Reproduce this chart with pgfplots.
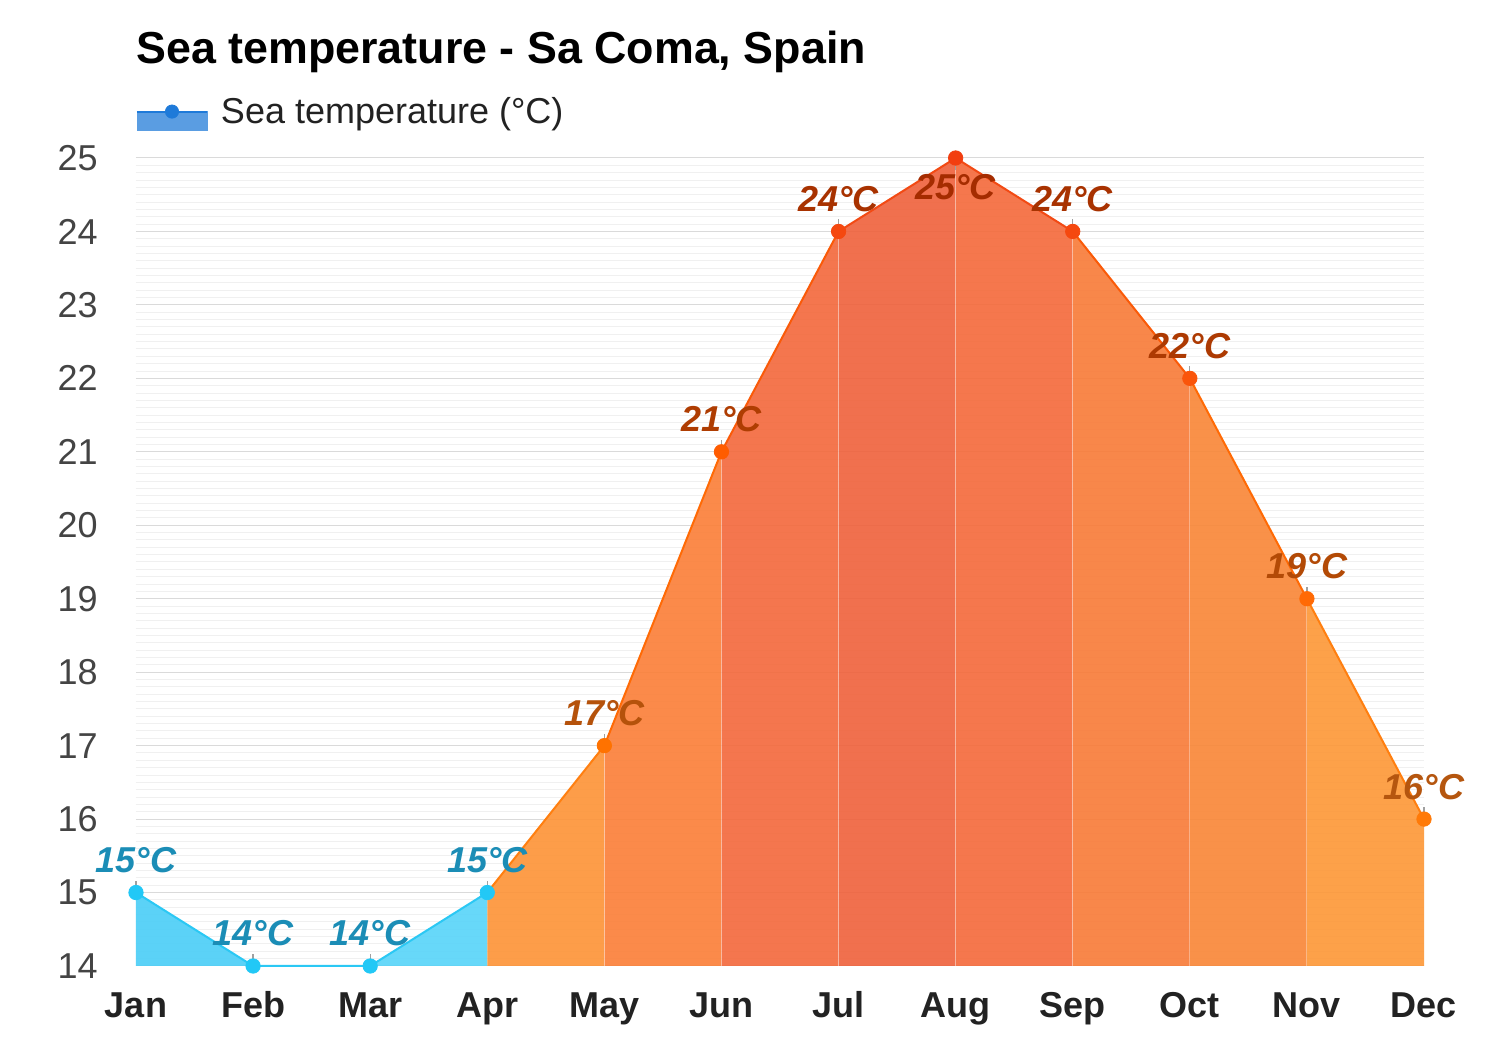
\documentclass[border=0pt]{standalone}
\usepackage{pgfplots}
\pgfplotsset{compat=1.18}
\usepackage{fontspec}
\setmainfont{Liberation Sans}

\definecolor{gridmaj}{HTML}{DADADA}
\definecolor{gridmin}{HTML}{F0F0F0}
\definecolor{tickc}{HTML}{444444}
\definecolor{monthc}{HTML}{222222}
\definecolor{tickgray}{HTML}{A0A0A0}
\definecolor{legfill}{HTML}{5A9DE2}
\definecolor{legline}{HTML}{1E7AD9}
% fills (drawn at 90% opacity)
\definecolor{fb1}{HTML}{4ACEF7}
\definecolor{fb3}{HTML}{57D4F9}
\definecolor{f4}{HTML}{FD9336}
\definecolor{f5}{HTML}{FB7E37}
\definecolor{f6}{HTML}{F3683B}
\definecolor{f7}{HTML}{EF613B}
\definecolor{f8}{HTML}{F4693A}
\definecolor{f9}{HTML}{F87A37}
\definecolor{f10}{HTML}{F98636}
\definecolor{f11}{HTML}{FD9736}
% lines
\definecolor{lblue}{HTML}{2BC8F4}
\definecolor{l1}{HTML}{FF7F10}
\definecolor{l2}{HTML}{FF6A05}
\definecolor{l3}{HTML}{FA5A08}
\definecolor{l4}{HTML}{F24A14}
% markers
\definecolor{mblue}{HTML}{22C8F6}
\definecolor{m17}{HTML}{FF7200}
\definecolor{m21}{HTML}{FF5C00}
\definecolor{m24}{HTML}{F5480F}
\definecolor{m25}{HTML}{F23E10}
\definecolor{m22}{HTML}{FA550A}
\definecolor{m19}{HTML}{FF6A05}
\definecolor{m16}{HTML}{FF7A08}
% labels
\definecolor{tblue}{HTML}{1B8DB6}
\definecolor{t17}{HTML}{B5520B}
\definecolor{t21}{HTML}{AF3D02}
\definecolor{t24}{HTML}{A83200}
\definecolor{t25}{HTML}{A52C00}
\definecolor{t22}{HTML}{AD3A02}
\definecolor{t19}{HTML}{B34A06}
\definecolor{t16}{HTML}{B5560F}

\pgfdeclareplotmark{tickup}{\pgfpathmoveto{\pgfqpoint{0pt}{0pt}}\pgfpathlineto{\pgfqpoint{0pt}{6pt}}\pgfusepathqstroke}
\pgfdeclareplotmark{tickdown}{\pgfpathmoveto{\pgfqpoint{0pt}{0pt}}\pgfpathlineto{\pgfqpoint{0pt}{-6pt}}\pgfusepathqstroke}

\newcommand{\fseg}[5]{\addplot[forget plot, draw=none, fill=#5, fill opacity=0.9] coordinates {(#1,14) (#1,#2) (#3,#4) (#3,14)};}
\newcommand{\lseg}[5]{\addplot[forget plot, draw=#5, line width=1pt, mark=none] coordinates {(#1,#2) (#3,#4)};}
\newcommand{\vsep}[2]{\addplot[forget plot, draw=white, opacity=0.35, line width=0.5pt, mark=none] coordinates {(#1,14) (#1,#2)};}
\newcommand{\tpt}[6]{%
\addplot[forget plot, only marks, mark=#6, color=tickgray, line width=0.6pt] coordinates {(#1,#2)};
\addplot[forget plot, only marks, mark=*, mark size=3.6pt, color=#3,
  nodes near coords={#2°C},
  every node near coord/.style={anchor=base, inner sep=0pt, yshift=#5,
    font=\bfseries\itshape\fontsize{18}{20}\selectfont, text=#4}] coordinates {(#1,#2)};
}

\begin{document}
\begin{tikzpicture}
\fill[white] (-68pt,-42pt) rectangle (682pt,483pt);
\begin{axis}[
  scale only axis, width=644pt, height=404pt,
  xmin=0, xmax=11, ymin=14, ymax=25,
  clip=false,
  axis line style={draw=none},
  major tick length=0pt, minor tick length=0pt,
  xtick={0,1,2,3,4,5,6,7,8,9,10,11},
  xticklabels={Jan,Feb,Mar,Apr,May,Jun,Jul,Aug,Sep,Oct,Nov,Dec},
  ytick={14,15,16,17,18,19,20,21,22,23,24,25},
  yticklabels={14,15,16,17,18,19,20,21,22,23,24,25},
  minor y tick num=9,
  ymajorgrids, yminorgrids,
  major grid style={draw=gridmaj, line width=0.5pt},
  minor grid style={draw=gridmin, line width=0.5pt},
  xticklabel style={anchor=base, inner sep=0pt, yshift=-26pt, font=\bfseries\fontsize{18}{20}\selectfont, text=monthc},
  yticklabel style={anchor=east, inner sep=0pt, xshift=-19pt, font=\fontsize{18}{20}\selectfont, text=tickc},
  legend style={at={(axis description cs:0,1)}, anchor=south west, yshift=13.5pt,
    draw=none, fill=none, inner sep=0pt, outer sep=0pt,
    font=\fontsize{18}{21}\selectfont, text=monthc,
    nodes={inner sep=0pt},
    /tikz/every odd column/.style={column sep=6.5pt}},
  legend cell align=left,
]
\addlegendimage{legend image code/.code={
  \fill[legfill] (0pt,-9.5pt) rectangle (35pt,0pt);
  \draw[legline, line width=1pt] (0pt,0pt) -- (35pt,0pt);
  \fill[legline] (17.5pt,0pt) circle (3.3pt);
}}
\addlegendentry{Sea temperature (°C)}

% area fills
\fseg{0}{15}{1}{14}{fb1}
\fseg{2}{14}{3}{15}{fb3}
\fseg{3}{15}{4}{17}{f4}
\fseg{4}{17}{5}{21}{f5}
\fseg{5}{21}{6}{24}{f6}
\fseg{6}{24}{7}{25}{f7}
\fseg{7}{25}{8}{24}{f8}
\fseg{8}{24}{9}{22}{f9}
\fseg{9}{22}{10}{19}{f10}
\fseg{10}{19}{11}{16}{f11}
% separators
\vsep{4}{17}
\vsep{5}{21}
\vsep{6}{24}
\vsep{7}{25}
\vsep{8}{24}
\vsep{9}{22}
\vsep{10}{19}
% lines
\addplot[forget plot, draw=lblue, line width=1pt, mark=none] coordinates {(0,15) (1,14) (2,14) (3,15)};
\lseg{3}{15}{4}{17}{l1}
\lseg{4}{17}{5}{21}{l2}
\lseg{5}{21}{6}{24}{l3}
\lseg{6}{24}{7}{25}{l4}
\lseg{7}{25}{8}{24}{l4}
\lseg{8}{24}{9}{22}{l3}
\lseg{9}{22}{10}{19}{l2}
\lseg{10}{19}{11}{16}{l1}
% points and labels
\tpt{0}{15}{mblue}{tblue}{10pt}{tickup}
\tpt{1}{14}{mblue}{tblue}{10pt}{tickup}
\tpt{2}{14}{mblue}{tblue}{10pt}{tickup}
\tpt{3}{15}{mblue}{tblue}{10pt}{tickup}
\tpt{4}{17}{m17}{t17}{10pt}{tickup}
\tpt{5}{21}{m21}{t21}{10pt}{tickup}
\tpt{6}{24}{m24}{t24}{10pt}{tickup}
\tpt{7}{25}{m25}{t25}{-21pt}{tickdown}
\tpt{8}{24}{m24}{t24}{10pt}{tickup}
\tpt{9}{22}{m22}{t22}{10pt}{tickup}
\tpt{10}{19}{m19}{t19}{10pt}{tickup}
\tpt{11}{16}{m16}{t16}{10pt}{tickup}

\node[anchor=base west, inner sep=0pt, yshift=47pt, font=\bfseries\fontsize{22.4}{26}\selectfont, text=black] at (axis description cs:0,1) {Sea temperature - Sa Coma, Spain};
\end{axis}
\pgfresetboundingbox
\path (-68pt,-42pt) rectangle (682pt,483pt);
\end{tikzpicture}
\end{document}
